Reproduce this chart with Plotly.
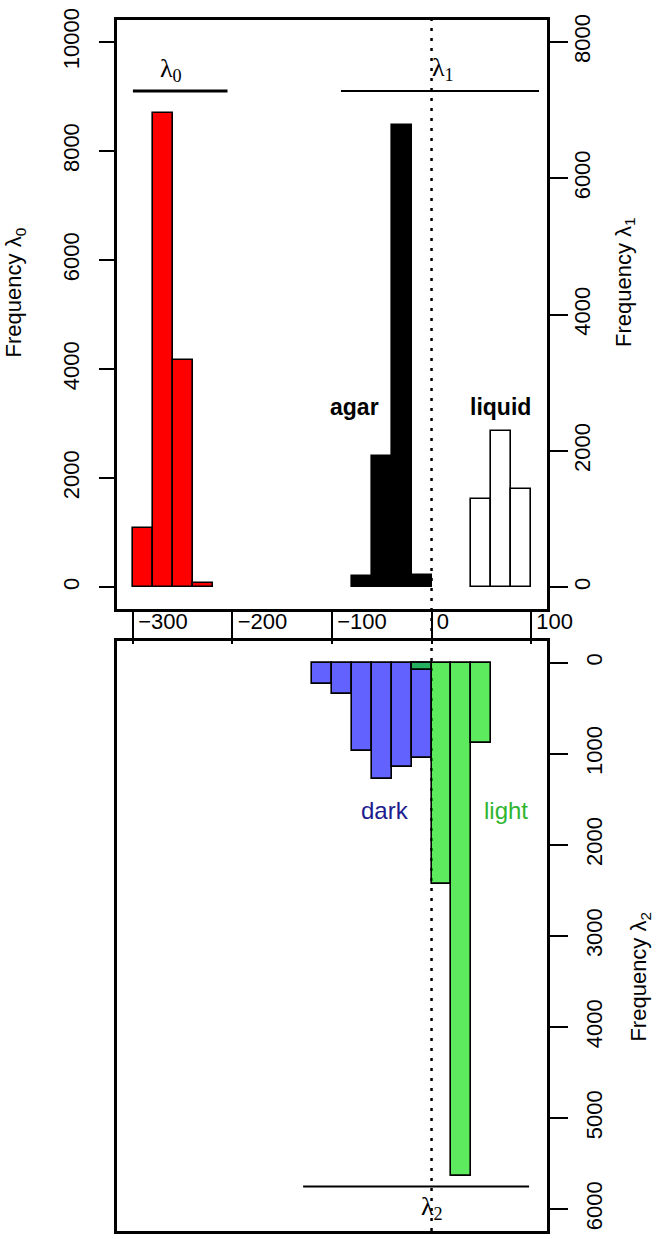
import plotly.graph_objects as go

# histogram bins (centres, width 20) and counts
BIN_WIDTH = 20
LAMBDA0_BINS = [-290, -270, -250, -230]
LAMBDA0_FREQ = [1080, 8690, 4170, 70]
AGAR_BINS = [-70, -50, -30, -10]
AGAR_FREQ = [170, 1930, 6780, 180]
LIQUID_BINS = [50, 70, 90]
LIQUID_FREQ = [1300, 2290, 1435]
DARK_BINS = [-110, -90, -70, -50, -30, -10]
DARK_FREQ = [237, 347, 967, 1277, 1142, 1044]
LIGHT_BINS = [-10, 10, 30, 50]
LIGHT_FREQ = [80, 2433, 5631, 875]

X_TICKS = [-300, -200, -100, 0, 100]
Y0_TICKS = [0, 2000, 4000, 6000, 8000, 10000]
Y1_TICKS = [0, 2000, 4000, 6000, 8000]
Y2_TICKS = [0, 1000, 2000, 3000, 4000, 5000, 6000]

# bracket lines for the three lambda groups (x from, x to, height)
LAMBDA0_SEG = (-300, -205, 9100)
LAMBDA1_SEG = (-91, 108, 9100)
LAMBDA2_SEG = (-129, 98, 5750)

FONT = "Liberation Sans, Arial, sans-serif"
SERIF = "Liberation Serif, Times New Roman, serif"
OUTLINE = dict(color="black", width=1.6)


def labels(vals):
    return [str(v).replace("-", "\u2212") for v in vals]


fig = go.Figure()

fig.add_trace(go.Bar(x=LAMBDA0_BINS, y=LAMBDA0_FREQ, width=BIN_WIDTH,
                     marker=dict(color="#ff0000", line=OUTLINE), xaxis="x", yaxis="y"))
fig.add_trace(go.Bar(x=AGAR_BINS, y=AGAR_FREQ, width=BIN_WIDTH,
                     marker=dict(color="black", line=OUTLINE), xaxis="x", yaxis="y2"))
fig.add_trace(go.Bar(x=LIQUID_BINS, y=LIQUID_FREQ, width=BIN_WIDTH,
                     marker=dict(color="white", line=OUTLINE), xaxis="x", yaxis="y2"))
fig.add_trace(go.Bar(x=DARK_BINS, y=DARK_FREQ, width=BIN_WIDTH,
                     marker=dict(color="#6262ff", line=OUTLINE), xaxis="x2", yaxis="y3"))
fig.add_trace(go.Bar(x=LIGHT_BINS, y=LIGHT_FREQ, width=BIN_WIDTH,
                     marker=dict(color="rgba(0,222,0,0.63)", line=OUTLINE), xaxis="x2", yaxis="y3"))

axis_common = dict(showline=True, mirror=True, linecolor="black", linewidth=2.5,
                   showgrid=False, zeroline=False, tickcolor="black", tickwidth=2,
                   ticklabeloverflow="allow",
                   tickfont=dict(family=FONT, size=22, color="black"))

# dotted zero line through both panels
fig.add_shape(type="line", xref="x", yref="paper", x0=0, x1=0, y0=0, y1=1,
              line=dict(color="black", width=2.5, dash="3px,7px"), layer="below")

for seg, yref, w in [(LAMBDA0_SEG, "y", 3), (LAMBDA1_SEG, "y", 2), (LAMBDA2_SEG, "y3", 2)]:
    fig.add_shape(type="line", xref="x" if yref == "y" else "x2", yref=yref,
                  x0=seg[0], x1=seg[1], y0=seg[2], y1=seg[2],
                  line=dict(color="black", width=w))

notes = [
    ("λ<sub>0</sub>", -262, 9480, "x", "y", SERIF, 26, "black"),
    ("λ<sub>1</sub>", 12, 9500, "x", "y", SERIF, 26, "black"),
    ("λ<sub>2</sub>", 0, 5990, "x2", "y3", SERIF, 26, "black"),
    ("<b>agar</b>", -77, 2650, "x", "y2", FONT, 23, "black"),
    ("<b>liquid</b>", 69, 2650, "x", "y2", FONT, 23, "black"),
    ("dark", -47, 1620, "x2", "y3", FONT, 24, "#1c1c8e"),
    ("light", 75, 1620, "x2", "y3", FONT, 24, "#2fb52f"),
]
for text, x, y, xr, yr, fam, size, col in notes:
    fig.add_annotation(text=text, x=x, y=y, xref=xr, yref=yr, showarrow=False,
                       xanchor="center", yanchor="middle",
                       font=dict(family=fam, size=size, color=col))

titles = [
    ("Frequency λ<sub>0</sub>", -0.235, 0.775),
    ("Frequency λ<sub>1</sub>", 1.18, 0.784),
    ("Frequency λ<sub>2</sub>", 1.216, 0.21),
]
for text, x, y in titles:
    fig.add_annotation(text=text, x=x, y=y, xref="paper", yref="paper", showarrow=False,
                       xanchor="center", yanchor="middle", textangle=-90,
                       font=dict(family=FONT, size=22, color="black"))

fig.update_layout(
    width=666, height=1239, autosize=False,
    margin=dict(l=117, r=119, t=14, b=8),
    paper_bgcolor="white", plot_bgcolor="white",
    barmode="overlay", bargap=0, showlegend=False,
    xaxis=dict(axis_common, domain=[0, 1], anchor="y", range=[-316, 116],
               tickvals=X_TICKS, ticktext=labels(X_TICKS), ticks="outside", ticklen=32,
               ticklabelposition="outside right", ticklabelstandoff=-9,
               ticklabelshift=3),
    yaxis=dict(axis_common, domain=[0.5136, 1], anchor="x", range=[-400, 10400],
               tickvals=Y0_TICKS, ticktext=labels(Y0_TICKS), ticks="outside", ticklen=15,
               tickangle=-90, ticklabelstandoff=11),
    yaxis2=dict(axis_common, overlaying="y", side="right", anchor="x", range=[-320, 8320],
                tickvals=Y1_TICKS, ticktext=labels(Y1_TICKS), ticks="outside", ticklen=18,
                tickangle=-90, ticklabelstandoff=-4),
    xaxis2=dict(axis_common, domain=[0, 1], anchor="y3", range=[-316, 116],
                showticklabels=False, ticks=""),
    yaxis3=dict(axis_common, domain=[0, 0.4873], anchor="x2", side="right",
                range=[6240, -240], tickvals=Y2_TICKS, ticktext=labels(Y2_TICKS),
                ticks="outside", ticklen=18, tickangle=-90, ticklabelstandoff=8),
)

# drop the default 8px body margin so the figure sits at the window corner
fig.write_html("out.html", config={"displayModeBar": False},
               post_script="document.body.style.margin = '0';")
